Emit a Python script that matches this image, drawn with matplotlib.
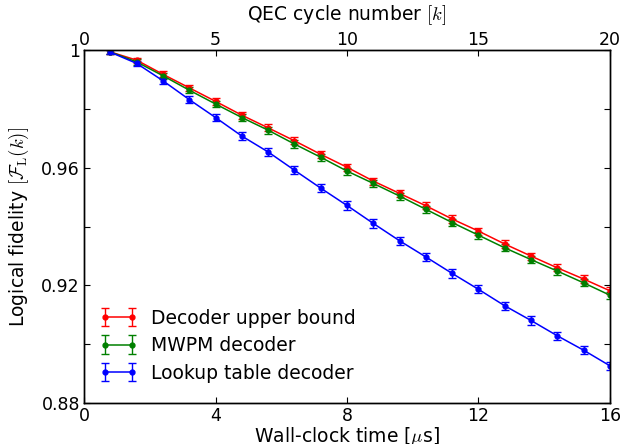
import matplotlib
matplotlib.use("Agg")
import matplotlib.pyplot as plt
import numpy as np
from matplotlib.ticker import FixedLocator, FuncFormatter
from matplotlib.container import ErrorbarContainer
from matplotlib.legend_handler import HandlerErrorbar

cycles = np.arange(1, 21)
cycle_time_us = 0.8
upper_bound = [0.9994, 0.9966, 0.9918, 0.9872, 0.9826, 0.9779, 0.9736, 0.9692, 0.9646, 0.9602,
               0.9555, 0.9513, 0.9471, 0.9426, 0.9385, 0.9341, 0.9300, 0.9260, 0.9222, 0.9182]
mwpm = [0.9994, 0.9960, 0.9913, 0.9864, 0.9817, 0.9771, 0.9728, 0.9681, 0.9636, 0.9589,
        0.9547, 0.9504, 0.9459, 0.9414, 0.9371, 0.9328, 0.9288, 0.9249, 0.9209, 0.9167]
lookup = [0.9993, 0.9955, 0.9896, 0.9832, 0.9771, 0.9708, 0.9654, 0.9592, 0.9531, 0.9472,
          0.9411, 0.9352, 0.9297, 0.9241, 0.9187, 0.9131, 0.9081, 0.9029, 0.8980, 0.8927]
upper_err = [0.0007, 0.0009, 0.0010, 0.0011, 0.0011, 0.0012, 0.0012, 0.0012, 0.0012, 0.0012,
             0.0012, 0.0012, 0.0012, 0.0012, 0.0012, 0.0012, 0.0012, 0.0012, 0.0012, 0.0012]
mwpm_err = upper_err
lookup_err = [0.0007, 0.0009, 0.0011, 0.0012, 0.0012, 0.0013, 0.0013, 0.0013, 0.0014, 0.0014,
              0.0014, 0.0014, 0.0014, 0.0014, 0.0014, 0.0014, 0.0014, 0.0014, 0.0014, 0.0014]
labels = ["Decoder upper bound", "MWPM decoder", "Lookup table decoder"]
colors = ["red", "green", "blue"]

plt.rcParams['font.family'] = ['DejaVu Sans']
plt.rcParams['mathtext.fontset'] = 'cm'
plt.rcParams['font.size'] = 13.5

fig = plt.figure(figsize=(6.23, 4.44), dpi=100)
ax = fig.add_axes([0.135, 0.092, 0.844, 0.795])
t = cycles * cycle_time_us
for vals, errs, lab, col in zip([upper_bound, mwpm, lookup], [upper_err, mwpm_err, lookup_err], labels, colors):
    ax.errorbar(t, vals, yerr=errs, color=col, marker='o', markersize=3.5,
                markerfacecolor=col, markeredgecolor=col,
                linewidth=1.1, elinewidth=1.0, capsize=3, capthick=1.0, label=lab)

ax.set_xlim(0, 16)
ax.set_ylim(0.88, 1.0)
ax.set_xticks([0, 4, 8, 12, 16])
ax.set_xticklabels(["0", "4", "8", "12", "16"])
yt = [0.88, 0.90, 0.92, 0.94, 0.96, 0.98, 1.0]
ax.yaxis.set_major_locator(FixedLocator(yt))
ylab = {0.88: "0.88", 0.92: "0.92", 0.96: "0.96", 1.0: "1"}
ax.yaxis.set_major_formatter(FuncFormatter(lambda v, p: ylab.get(round(v, 2), "")))
ax.tick_params(axis='both', direction='in', length=4, width=0.8, labelsize=12.5)
ax.tick_params(axis='y', right=True, left=True, pad=3)
ax.tick_params(axis='x', top=False, bottom=True, pad=3)
ax.set_xlabel(r"Wall-clock time [$\mu$s]", fontsize=13.5, labelpad=0)
ax.set_ylabel(r"Logical fidelity $[\mathcal{F}_\mathrm{L}(k)]$", fontsize=13.5, labelpad=7)

ax2 = ax.twiny()
ax2.set_xlim(0, 20)
ax2.set_xticks([0, 5, 10, 15, 20])
ax2.tick_params(axis='x', direction='in', length=4, width=0.8, labelsize=12.5, pad=1)
ax2.set_xlabel(r"QEC cycle number $[k]$", fontsize=13.5, labelpad=8)

leg = ax.legend(loc='lower left', frameon=False, fontsize=13.5, handlelength=1.45,
                handler_map={ErrorbarContainer: HandlerErrorbar(numpoints=2, marker_pad=0.0)},
                borderaxespad=0.7, labelspacing=0.45, handletextpad=1.0)
for a in (ax, ax2):
    for s in a.spines.values():
        s.set_linewidth(1.0)

fig.savefig("out.png", dpi=100)
